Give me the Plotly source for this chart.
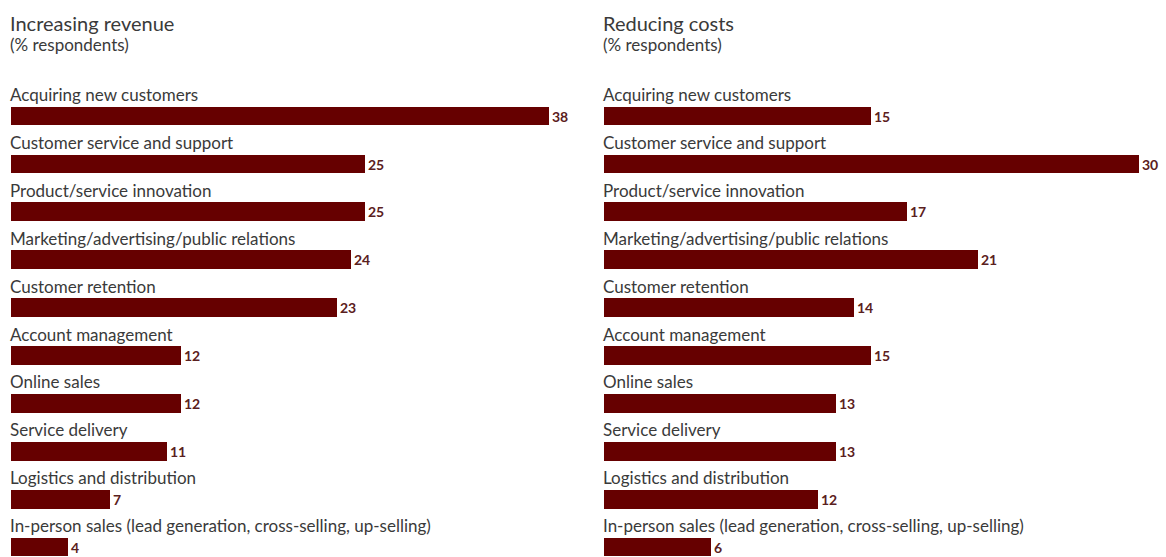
import plotly.graph_objects as go

# Survey data (% respondents)
categories = [
    "Acquiring new customers",
    "Customer service and support",
    "Product/service innovation",
    "Marketing/advertising/public relations",
    "Customer retention",
    "Account management",
    "Online sales",
    "Service delivery",
    "Logistics and distribution",
    "In-person sales (lead generation, cross-selling, up-selling)",
]
revenue = [38, 25, 25, 24, 23, 12, 12, 11, 7, 4]
costs = [15, 30, 17, 21, 14, 15, 13, 13, 12, 6]

panel_titles = ["Increasing revenue", "Reducing costs"]
subtitle = "(% respondents)"

W, H = 1166, 557
BAR = "#660000"
TEXT = "#3a3a3a"
VALUE = "#5a2020"
FONT = "Lato, Roboto, sans-serif"

fig = go.Figure()

panels = [
    dict(values=revenue, xa="x", ya="y", domain=[0, 0.5], zero_px=11, scale=14.16),
    dict(values=costs, xa="x2", ya="y2", domain=[0.5, 1], zero_px=604, scale=17.83),
]

# category index -> pixel: centre of first bar at 116 px, 47.9 px per row
row0, step = 116.0, 47.9
y_range = [(H - row0) / step, -row0 / step]

annotations = []
for k, p in enumerate(panels):
    fig.add_trace(go.Bar(
        x=p["values"], y=categories, orientation="h",
        xaxis=p["xa"], yaxis=p["ya"],
        marker=dict(color=BAR, line=dict(width=0)),
        width=0.39,
        text=[str(v) for v in p["values"]],
        textposition="outside",
        textfont=dict(family=FONT, size=14, color=VALUE, weight="bold"),
        cliponaxis=False,
        hoverinfo="skip",
        showlegend=False,
    ))
    left_px = p["domain"][0] * W
    right_px = p["domain"][1] * W
    x_range = [(left_px - p["zero_px"]) / p["scale"], (right_px - p["zero_px"]) / p["scale"]]
    axis_suffix = "" if k == 0 else "2"
    fig.update_layout(**{
        "xaxis" + axis_suffix: dict(domain=p["domain"], range=x_range, visible=False,
                                    fixedrange=True),
        "yaxis" + axis_suffix: dict(domain=[0, 1], range=y_range, visible=False,
                                    type="category", categoryorder="array",
                                    categoryarray=categories, fixedrange=True,
                                    anchor=p["xa"]),
    })
    # category labels sit just above each bar
    for c in categories:
        annotations.append(dict(
            x=0, y=c, xref=p["xa"], yref=p["ya"],
            text=c, showarrow=False, xanchor="left", yanchor="bottom",
            xshift=-3, yshift=9,
            font=dict(family=FONT, size=17, color=TEXT),
        ))
    # panel titles
    annotations.append(dict(
        x=p["zero_px"] / W, y=1 - 9 / H, xref="paper", yref="paper",
        text=panel_titles[k], showarrow=False, xanchor="left", yanchor="top",
        xshift=-3, font=dict(family=FONT, size=20, color=TEXT),
    ))
    annotations.append(dict(
        x=p["zero_px"] / W, y=1 - 32 / H, xref="paper", yref="paper",
        text=subtitle, showarrow=False, xanchor="left", yanchor="top",
        xshift=-3, font=dict(family=FONT, size=17, color=TEXT),
    ))

fig.update_layout(
    width=W, height=H,
    margin=dict(l=0, r=0, t=0, b=0),
    paper_bgcolor="white", plot_bgcolor="white",
    bargap=0,
    annotations=annotations,
)

fig.write_html("out.html", include_plotlyjs=True)
